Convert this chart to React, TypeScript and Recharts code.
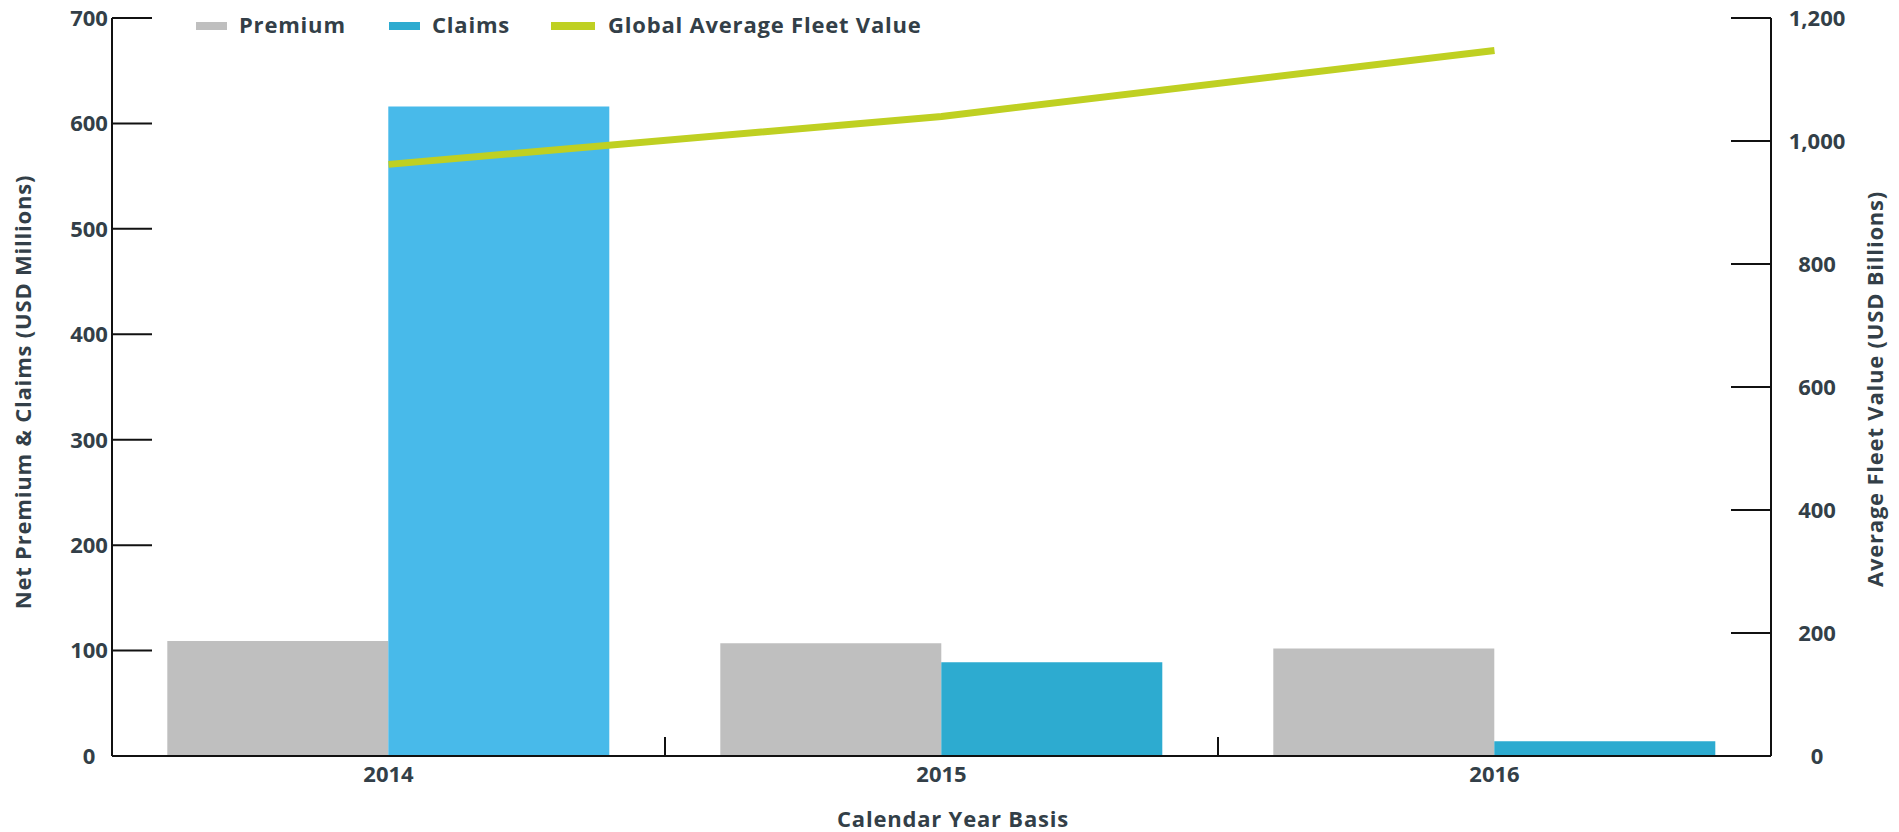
import { ComposedChart, Bar, Line, XAxis, YAxis, Cell, Label } from 'recharts';

const years = ['2014', '2015', '2016'];
const premium = [109, 107, 102];
const claims = [616, 89, 14];
const fleetValue = [962, 1040, 1147];
const leftTicks = [0, 100, 200, 300, 400, 500, 600, 700];
const rightTicks = [0, 200, 400, 600, 800, 1000, 1200];

const claimsColors = ['#48BAEA', '#2DABD0', '#2DABD0'];

const data = years.map((year, i) => ({
  year,
  premium: premium[i],
  claims: claims[i],
  fleet: fleetValue[i],
}));

const W = 1899;
const H = 832;
const LEFT_W = 112;
const RIGHT_W = 128;
const TOP = 18;
const X_H = 76;
const PLOT_BOTTOM = H - X_H;
const BAND = (W - LEFT_W - RIGHT_W) / years.length;

const FONT = "'Open Sans', sans-serif";
const TEXT = '#333F48';
const AXIS = '#111';

const textStyle = { fontFamily: FONT, fontWeight: 700, fontSize: 22, fill: TEXT };
// the titles and legend run a little wider than Open Sans
const wideStyle = { ...textStyle, letterSpacing: 0.8 };

function LeftTick({ y, payload }: any) {
  return (
    <g>
      <line x1={LEFT_W} x2={LEFT_W + 40} y1={y} y2={y} stroke={AXIS} strokeWidth={2} />
      <text x={89} y={y} dy="0.36em" textAnchor="middle" style={textStyle}>
        {payload.value}
      </text>
    </g>
  );
}

function RightTick({ y, payload }: any) {
  const ax = W - RIGHT_W;
  return (
    <g>
      <line x1={ax - 40} x2={ax} y1={y} y2={y} stroke={AXIS} strokeWidth={2} />
      <text x={1817} y={y} dy="0.36em" textAnchor="middle" style={textStyle}>
        {Number(payload.value).toLocaleString('en-US')}
      </text>
    </g>
  );
}

function BottomTick({ x, payload, index }: any) {
  return (
    <g>
      {index < years.length - 1 && (
        <line
          x1={x + BAND / 2}
          x2={x + BAND / 2}
          y1={PLOT_BOTTOM - 19}
          y2={PLOT_BOTTOM}
          stroke={AXIS}
          strokeWidth={2}
        />
      )}
      <text x={x} y={774} dy="0.36em" textAnchor="middle" style={textStyle}>
        {payload.value}
      </text>
    </g>
  );
}

function Legendary() {
  const items = [
    { label: 'Premium', color: '#BFBFBF', sx: 196, sw: 31, tx: 239 },
    { label: 'Claims', color: '#2DABD0', sx: 389, sw: 31, tx: 432 },
    { label: 'Global Average Fleet Value', color: '#BFD022', sx: 551, sw: 44, tx: 608 },
  ];
  return (
    <svg
      width={W}
      height={50}
      style={{ position: 'absolute', left: 0, top: 0, pointerEvents: 'none' }}
    >
      {items.map((it) => (
        <g key={it.label}>
          <rect x={it.sx} y={22} width={it.sw} height={8} fill={it.color} />
          <text x={it.tx} y={33} style={wideStyle}>
            {it.label}
          </text>
        </g>
      ))}
    </svg>
  );
}

export default function App() {
  return (
    <div style={{ position: 'absolute', left: 0, top: 0, width: W, height: H, background: '#fff' }}>
      <ComposedChart
        width={W}
        height={H}
        data={data}
        margin={{ top: TOP, right: 0, bottom: 0, left: 0 }}
        barCategoryGap="10%"
        barGap={0}
      >
        <XAxis
          dataKey="year"
          height={X_H}
          axisLine={{ stroke: AXIS, strokeWidth: 2 }}
          tickLine={false}
          tick={<BottomTick />}
          interval={0}
        >
          <Label
            content={() => (
              <text x={953} y={819} dy="0.36em" textAnchor="middle" style={wideStyle}>
                Calendar Year Basis
              </text>
            )}
          />
        </XAxis>
        <YAxis
          yAxisId="left"
          orientation="left"
          width={LEFT_W}
          domain={[0, 700]}
          ticks={leftTicks}
          axisLine={{ stroke: AXIS, strokeWidth: 2 }}
          tickLine={false}
          tick={<LeftTick />}
        >
          <Label
            content={() => (
              <text
                x={23}
                y={392}
                dy="0.36em"
                textAnchor="middle"
                transform="rotate(-90 23 392)"
                style={wideStyle}
              >
                Net Premium &amp; Claims (USD Millions)
              </text>
            )}
          />
        </YAxis>
        <YAxis
          yAxisId="right"
          orientation="right"
          width={RIGHT_W}
          domain={[0, 1200]}
          ticks={rightTicks}
          axisLine={{ stroke: AXIS, strokeWidth: 2 }}
          tickLine={false}
          tick={<RightTick />}
        >
          <Label
            content={() => (
              <text
                x={1875}
                y={389}
                dy="0.36em"
                textAnchor="middle"
                transform="rotate(-90 1875 389)"
                style={wideStyle}
              >
                Average Fleet Value (USD Billions)
              </text>
            )}
          />
        </YAxis>
        <Bar yAxisId="left" dataKey="premium" fill="#BFBFBF" isAnimationActive={false} />
        <Bar yAxisId="left" dataKey="claims" fill="#2DABD0" isAnimationActive={false}>
          {data.map((d, i) => (
            <Cell key={d.year} fill={claimsColors[i]} />
          ))}
        </Bar>
        <Line
          yAxisId="right"
          type="linear"
          dataKey="fleet"
          stroke="#BFD022"
          strokeWidth={7}
          strokeLinecap="butt"
          dot={false}
          activeDot={false}
          isAnimationActive={false}
        />
      </ComposedChart>
      <Legendary />
    </div>
  );
}
